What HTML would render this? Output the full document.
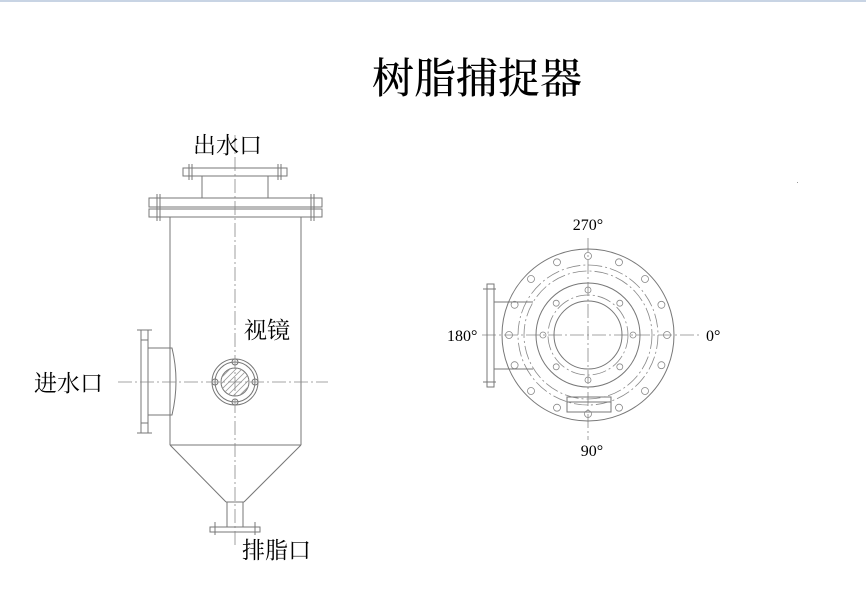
<!DOCTYPE html>
<html><head><meta charset="utf-8"><style>
body{margin:0;background:#fff;}
svg{display:block}
</style></head><body>
<svg width="866" height="613" viewBox="0 0 866 613" xmlns="http://www.w3.org/2000/svg" font-family="'Liberation Serif','Noto Serif CJK SC',serif">
<rect x="0" y="0" width="866" height="2" fill="#c8d4e4"/>
<text x="477" y="93" font-size="42" text-anchor="middle" fill="#000" font-weight="500">树脂捕捉器</text>
<g stroke="#777" stroke-width="1" fill="none">
<rect x="183" y="168" width="104" height="8"/>
<line x1="189" y1="164" x2="189" y2="180"/><line x1="192" y1="164" x2="192" y2="180"/>
<line x1="278" y1="164" x2="278" y2="180"/><line x1="281" y1="164" x2="281" y2="180"/>
<line x1="202" y1="176" x2="202" y2="198"/><line x1="268" y1="176" x2="268" y2="198"/>
<rect x="149" y="198" width="173" height="9"/>
<rect x="149" y="209" width="173" height="8"/>
<line x1="160" y1="194" x2="160" y2="221"/><line x1="157" y1="194" x2="157" y2="221"/>
<line x1="311" y1="194" x2="311" y2="221"/><line x1="314" y1="194" x2="314" y2="221"/>
<line x1="170" y1="217" x2="170" y2="445"/><line x1="301" y1="217" x2="301" y2="445"/>
<line x1="170" y1="445" x2="301" y2="445"/>
<line x1="170" y1="445" x2="226" y2="502"/><line x1="301" y1="445" x2="244" y2="502"/>
<line x1="226" y1="502" x2="244" y2="502"/>
<line x1="227" y1="502" x2="227" y2="527"/><line x1="243" y1="502" x2="243" y2="527"/>
<rect x="210" y="527" width="50" height="5"/>
<line x1="215" y1="522" x2="215" y2="535"/><line x1="255" y1="522" x2="255" y2="535"/>
<rect x="141" y="340" width="7" height="83"/>
<line x1="137" y1="330" x2="152" y2="330"/><line x1="137" y1="433" x2="152" y2="433"/>
<line x1="141" y1="330" x2="141" y2="433"/><line x1="148" y1="330" x2="148" y2="433"/>
<path d="M148 348 H172 Q180 381 172 415 H148"/>
<circle cx="235" cy="382" r="23"/><circle cx="235" cy="382" r="20"/>
<circle cx="235" cy="382" r="14"/>
<circle cx="235" cy="362" r="3"/><circle cx="235" cy="402" r="3"/>
<circle cx="215" cy="382" r="3"/><circle cx="255" cy="382" r="3"/>
</g>
<clipPath id="c"><circle cx="235" cy="382" r="14"/></clipPath>
<g clip-path="url(#c)" stroke="#999" stroke-width="0.8">
<line x1="215" y1="390" x2="243" y2="362"/><line x1="215" y1="396" x2="249" y2="362"/><line x1="215" y1="402" x2="255" y2="362"/><line x1="221" y1="402" x2="255" y2="368"/><line x1="227" y1="402" x2="255" y2="374"/><line x1="233" y1="402" x2="255" y2="380"/><line x1="215" y1="384" x2="237" y2="362"/><line x1="215" y1="378" x2="231" y2="362"/>
</g>
<g stroke="#888" stroke-width="0.8" stroke-dasharray="14,3,2,3" fill="none">
<line x1="235" y1="135" x2="235" y2="545"/>
<line x1="118" y1="382" x2="328" y2="382"/>
<line x1="588" y1="238" x2="588" y2="440"/>
<line x1="482" y1="335" x2="700" y2="335"/>
<circle cx="588" cy="335" r="70"/>
<circle cx="588" cy="335" r="64"/>
<circle cx="588" cy="335" r="40"/>
</g>
<g stroke="#777" stroke-width="1" fill="none">
<circle cx="588" cy="335" r="86"/>
<circle cx="588" cy="335" r="52"/>
<circle cx="588" cy="335" r="34"/>
<rect x="487" y="284" width="7" height="103"/>
<line x1="483" y1="289" x2="496" y2="289"/><line x1="483" y1="382" x2="496" y2="382"/>
<line x1="494" y1="302" x2="533" y2="302"/><line x1="494" y1="369" x2="533" y2="369"/>
<rect x="567" y="397" width="44" height="15"/>
<line x1="567" y1="402" x2="611" y2="402"/>
</g>
<g stroke="#888" stroke-width="0.8" fill="none">
<circle cx="667" cy="335" r="3.5"/><circle cx="661.4" cy="365.2" r="3.5"/><circle cx="645" cy="391" r="3.5"/><circle cx="619" cy="407.7" r="3.5"/><circle cx="588" cy="414" r="3.5"/><circle cx="557" cy="407.7" r="3.5"/><circle cx="531" cy="391" r="3.5"/><circle cx="514.6" cy="365.2" r="3.5"/><circle cx="509" cy="335" r="3.5"/><circle cx="514.6" cy="304.8" r="3.5"/><circle cx="531" cy="279" r="3.5"/><circle cx="557" cy="262.3" r="3.5"/><circle cx="588" cy="256" r="3.5"/><circle cx="619" cy="262.3" r="3.5"/><circle cx="645" cy="279" r="3.5"/><circle cx="661.4" cy="304.8" r="3.5"/>
<circle cx="633" cy="335" r="3"/><circle cx="619.8" cy="366.8" r="3"/><circle cx="588" cy="380" r="3"/><circle cx="556.2" cy="366.8" r="3"/><circle cx="543" cy="335" r="3"/><circle cx="556.2" cy="303.2" r="3"/><circle cx="588" cy="290" r="3"/><circle cx="619.8" cy="303.2" r="3"/>
</g>
<g font-family="'Liberation Serif',serif" font-size="16" fill="#000">
<text x="588" y="230" text-anchor="middle">270°</text>
<text x="592" y="456" text-anchor="middle">90°</text>
<text x="447" y="341">180°</text>
<text x="706" y="341">0°</text>
</g>
<g font-size="23" fill="#000">
<text x="193" y="153">出水口</text>
<text x="244" y="338">视镜</text>
<text x="34" y="391">进水口</text>
<text x="242" y="558">排脂口</text>
</g>
<rect x="797" y="182" width="1" height="1" fill="#999"/>
</svg>
</body></html>
